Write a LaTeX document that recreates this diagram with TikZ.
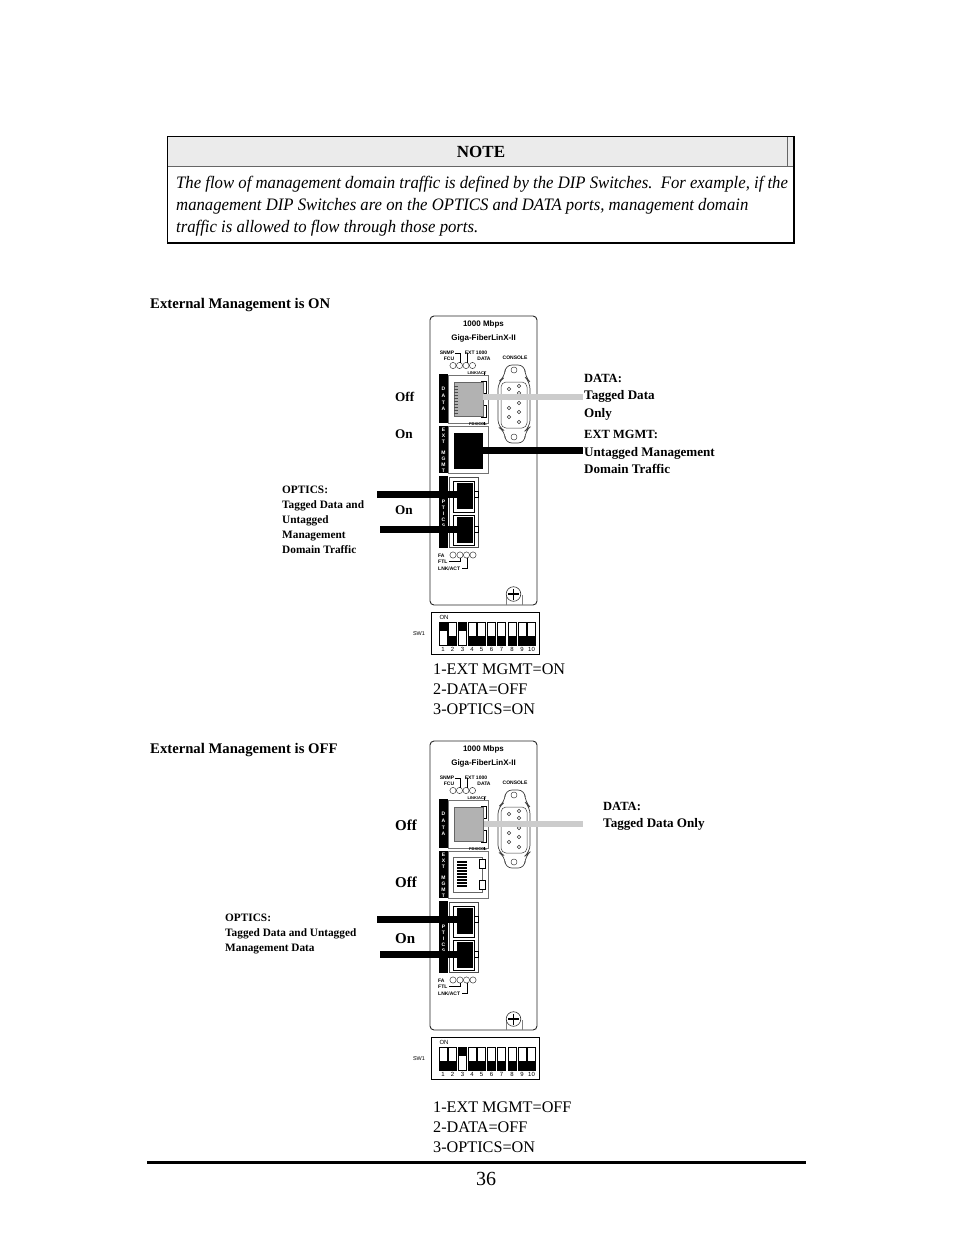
\documentclass[tikz,border=0pt]{standalone}
\usepackage{fontspec}
\setmainfont{Liberation Serif}
\newfontfamily\hv{Liberation Sans}
\newfontfamily\noteit[FakeStretch=0.955]{Liberation Serif}
\newcommand{\fsz}[1]{\fontsize{#1}{#1}\selectfont}
\tikzset{
 txt/.style={inner sep=0pt,anchor=west,align=left},
 lab/.style={inner sep=0pt,anchor=base west,font=\fsz{13.1}\bfseries},
 labhead/.style={inner sep=0pt,anchor=base west,font=\fsz{12.5}\bfseries},
 optlab/.style={inner sep=0pt,anchor=base west,font=\fsz{11.3}\bfseries},
 notetxt/.style={txt,font=\noteit\fsz{17.5}\itshape},
 onoff/.style={inner sep=0pt,anchor=base west,font=\fsz{13.2}\bfseries},
 onoffb/.style={inner sep=0pt,anchor=base west,font=\fsz{15}\bfseries},
 dipline/.style={inner sep=0pt,anchor=west,font=\fsz{16.2}},
 tiny/.style={inner sep=0pt,font=\hv\fsz{5}\bfseries},
 micro/.style={inner sep=0pt,font=\hv\fsz{4}\bfseries},
 small/.style={inner sep=0pt,font=\hv\fsz{8}\bfseries},
 strip/.style={fill=black,draw=none},
 strl/.style={inner sep=0pt,text=white,font=\hv\fsz{5}\bfseries},
 portbox/.style={draw=black!55,line width=.8pt,fill=white},
 bar/.style={line width=6.5pt},
 led/.style={draw=black!75,line width=.5pt,fill=white},
 wire/.style={line width=1pt,black},
 pin/.style={draw=black!80,line width=.45pt,fill=white},
 greyport/.style={inner sep=0pt,fill=black!30,draw=black!60,minimum width=29pt,minimum height=34pt},
}
\newcommand{\panel}[2]{% #1 = prefix, #2 = y offset
\begin{scope}[yshift=-#2pt]
 \draw[line width=.9pt,black!85,rounded corners=4pt] (430,316) rectangle (537,605);
 \node[small] (#1t1) at (483.5,324.5) {1000 Mbps};
 \node[small] (#1t2) at (483.5,338.5) {Giga-FiberLinX-II};
 \node[tiny] (#1s1) at (447,353) {SNMP};
 \node[tiny] (#1s2) at (449,359) {FCU};
 \node[tiny] (#1s3) at (476,353) {EXT 1000};
 \node[tiny] (#1s4) at (484,358.5) {DATA};
 \node[tiny] (#1s5) at (515,357.5) {CONSOLE};
 \foreach \x in {453,459.5,466,472.5}{\draw[led] (\x,365.5) circle (3.1);}
 \draw[wire] (455,353.5)--(460,353.5)--(460,362.5);\draw[wire] (467,353)--(467,362.5);
 % strips
 \fill[strip] (439,374) rectangle (448,423);
 \fill[strip] (439,426) rectangle (448,473);
 \fill[strip] (439,476) rectangle (448,548);
 \foreach \y/\c in {389/D,396/A,403/T,409/A,430/E,436/X,442/T,453/M,459/G,465/M,471/T,502/P,508/T,514/I,520/C,526/S}{\node[strl] at (443.5,\y) {\c};}
 % data port
 \draw[portbox] (448,375) rectangle (488,423);
 \node[micro] (#1la) at (477,373) {LINK/ACT};
 \node[micro] (#1fd) at (478,424.5) {FDX/COL};
 \draw[wire,line width=.8pt] (484,372)--(484,375); \draw[wire,line width=.8pt] (484,425)--(484,422);
 \draw[black,line width=.7pt] (481,381) rectangle (486,393);\draw[black,line width=.7pt] (481,405) rectangle (486,417);
 % ext port frame
 \draw[portbox] (448,426) rectangle (488,473);
 % optics
 \draw[portbox,draw=black!70,line width=1pt] (449,477) rectangle (478,547);
 \draw[draw=black,line width=.6pt,fill=white] (474.5,491) rectangle (478.5,497);
 \draw[draw=black,line width=.6pt,fill=white] (474.5,526) rectangle (478.5,532);
 \draw[black,line width=.7pt] (453,481) rectangle (474,512);
 \draw[black,line width=.7pt] (453,515) rectangle (474,545);
 \node[fill=black,minimum width=16pt,minimum height=26pt,inner sep=0pt] (#1opa) at (465,496) {};
 \node[fill=black,minimum width=16pt,minimum height=26pt,inner sep=0pt] (#1opb) at (465,530) {};
 % DB9
 \draw[black!75,line width=.7pt,rounded corners=7pt] (505,365) -- (525,365) -- (525,377) -- (530,382) -- (530,427) -- (525,431) -- (525,443) -- (505,443) -- (505,431) -- (498,427) -- (498,382) -- (505,377) -- cycle;
 \draw[black!75,line width=.5pt,rounded corners=5pt] (501,382) rectangle (527,428);
 \draw[pin] (514,370) circle (3);\draw[pin] (514,437) circle (3);
 \foreach \p in {(509,389),(519,386),(519,393),(519,403),(509,398),(509,408),(519,412),(509,417),(519,422)}{\draw[pin] \p circle (1.8);}
 % FA leds
 \node[tiny,anchor=west] (#1f1) at (438,555.5) {FA};
 \node[tiny,anchor=west] (#1f2) at (438,562) {FTL};
 \node[tiny,anchor=west] (#1f3) at (438,568.5) {LNK/ACT};
 \foreach \x in {453,460,466.5,473}{\draw[led] (\x,555) circle (3.1);}
 \draw[wire] (449,561.5)--(460,561.5)--(460,558);
 \draw[wire] (462,568)--(467,568)--(467,558);
 % screw
 \draw[black!50,line width=.5pt] (506,595)--(506,605) (522,595)--(522,605);
 \draw[black!80,line width=.6pt,fill=white] (513.5,594) circle (7.3);
 \draw[black,line width=1.2pt] (513.5,588.5)--(513.5,599.5) (508,594)--(519,594);
 \node[inner sep=0pt,font=\hv\fsz{5.5}] (#1sw) at (419,633.5) {SW1};
\end{scope}}
\newcommand{\dip}[3]{% #1 prefix, #2 y offset, #3 list number/x/state
\begin{scope}[yshift=-#2pt]
 \draw[black,line width=.8pt] (431,612) rectangle (539,654);
 \node[inner sep=0pt,font=\hv\fsz{6}] (#1on) at (444,617) {ON};
 \foreach \n/\x/\s in {#3}{
  \draw[black,line width=.7pt,fill=white] ({\x-4},622) rectangle ({\x+4},645);
  \ifnum\s=1 \fill[black] ({\x-4},622) rectangle ({\x+4},631);
  \else \fill[black] ({\x-4},636) rectangle ({\x+4},645);\fi
  \node[inner sep=0pt,font=\hv\fsz{6}] at (\x,649.8) {\n};
 }
\end{scope}}
\begin{document}
\begin{tikzpicture}[x=1pt,y=-1pt]
\useasboundingbox (0,0) rectangle (954,1235);
\fill[white] (0,0) rectangle (954,1235);
% note
\fill[black!8] (168,137) rectangle (794,165.5);
\draw[black!60,line width=.6pt] (168,165.8)--(794,165.8) (787,137)--(787,165.5);
\draw[black,line width=1.6pt] (167.5,136.5) rectangle (794,243);
\node[inner sep=0pt,font=\fsz{17}\bfseries] (note) at (481,151.5) {NOTE};
\node[notetxt] (n1) at (176,184) {The flow of management domain traffic is defined by the DIP Switches.\ \ For example, if the};
\node[notetxt] (n2) at (176,206) {management DIP Switches are on the OPTICS and DATA ports, management domain};
\node[notetxt] (n3) at (176,228) {traffic is allowed to flow through those ports.};
% section 1
\node[txt,font=\fsz{14.7}\bfseries] (h1) at (150,305) {External Management is ON};
\panel{a}{0}
\dip{a}{0}{1/443/1,2/452.5/0,3/462.5/1,4/472/0,5/481.5/0,6/491.5/0,7/501.5/0,8/512/0,9/522/0,10/531.5/0}
\node[onoff] (aoff) at (395,401) {Off};
\node[onoff] (aon1) at (395,438) {On};
\node[onoff] (aon2) at (395,514) {On};
\node[greyport] (adata) at (468.5,399) {};
\foreach \y in {386,389,392,395,398,401,404,407,410,413}{\draw[black!70,line width=.5pt] (454,\y)--(458,\y);}
\node[inner sep=0pt,fill=black,minimum width=29pt,minimum height=36pt] (aext) at (468.5,451) {};
\coordinate (adataend) at (582.5,397);
\coordinate (aextend) at (582.5,450.5);
\coordinate (aoaend) at (377,494.5);
\coordinate (aobend) at (380,529.5);
\draw[bar,black!20] (adata.east |- adataend) -- (adataend);
\draw[bar,black] (aext.east |- aextend) -- (aextend);
\draw[bar] (aoaend) -- (aoaend -| aopa.center);
\draw[bar] (aobend) -- (aobend -| aopb.center);
\node[labhead] (al1) at (584,382) {DATA:};
\node[lab] (al2) at (584,399) {Tagged Data};
\node[lab] (al3) at (584,417) {Only};
\node[labhead] (al4) at (584,438) {EXT MGMT:};
\node[lab] (al5) at (584,456) {Untagged Management};
\node[lab] (al6) at (584,473) {Domain Traffic};
\node[optlab] (ao1) at (282,493) {OPTICS:};
\node[optlab] (ao2) at (282,508) {Tagged Data and};
\node[optlab] (ao3) at (282,523) {Untagged};
\node[optlab] (ao4) at (282,538) {Management};
\node[optlab] (ao5) at (282,553) {Domain Traffic};
\node[dipline] (ad1) at (433,669) {1-EXT MGMT=ON};
\node[dipline] (ad2) at (433,689) {2-DATA=OFF};
\node[dipline] (ad3) at (433,709) {3-OPTICS=ON};
% section 2
\node[txt,font=\fsz{14.7}\bfseries] (h2) at (150,750) {External Management is OFF};
\panel{b}{425}
\dip{b}{425}{1/443/0,2/452.5/0,3/462.5/1,4/472/0,5/481.5/0,6/491.5/0,7/501.5/0,8/512/0,9/522/0,10/531.5/0}
\node[onoffb] (boff) at (395,830) {Off};
\node[onoffb] (boff2) at (395,887) {Off};
\node[onoffb] (bon) at (395,943) {On};
\node[greyport] (bdata) at (469,824) {};
% management port, second panel
\draw[black!60,line width=.7pt] (453,857) -- (482,857) -- (482,892) -- (453,892) -- cycle;
\draw[black,fill=white,line width=.8pt] (479,859) rectangle (485,868);
\draw[black,fill=white,line width=.8pt] (479,880) rectangle (485,889);
\foreach \y in {862,865,868,871,874,877,880,883,886}{\draw[black,line width=1.4pt] (457,\y)--(467,\y);}
\coordinate (bdataend) at (582.5,824);
\coordinate (boaend) at (377,919.5);
\coordinate (bobend) at (380,954.5);
\draw[bar,black!20] (bdata.east |- bdataend) -- (bdataend);
\draw[bar] (boaend) -- (boaend -| bopa.center);
\draw[bar] (bobend) -- (bobend -| bopb.center);
\node[labhead] (bl1) at (603,810) {DATA:};
\node[lab] (bl2) at (603,827) {Tagged Data Only};
\node[optlab] (bo1) at (225,921) {OPTICS:};
\node[optlab] (bo2) at (225,936) {Tagged Data and Untagged};
\node[optlab] (bo3) at (225,951) {Management Data};
\node[dipline] (bd1) at (433,1107) {1-EXT MGMT=OFF};
\node[dipline] (bd2) at (433,1127) {2-DATA=OFF};
\node[dipline] (bd3) at (433,1147) {3-OPTICS=ON};
% footer
\coordinate (r1) at (147,1162.5);
\coordinate (r2) at (806,1162.5);
\draw[black,line width=3pt] (r1) -- (r2);
\node[inner sep=0pt,font=\fsz{20}] (pg) at (486,1179) {36};
\end{tikzpicture}
\end{document}
